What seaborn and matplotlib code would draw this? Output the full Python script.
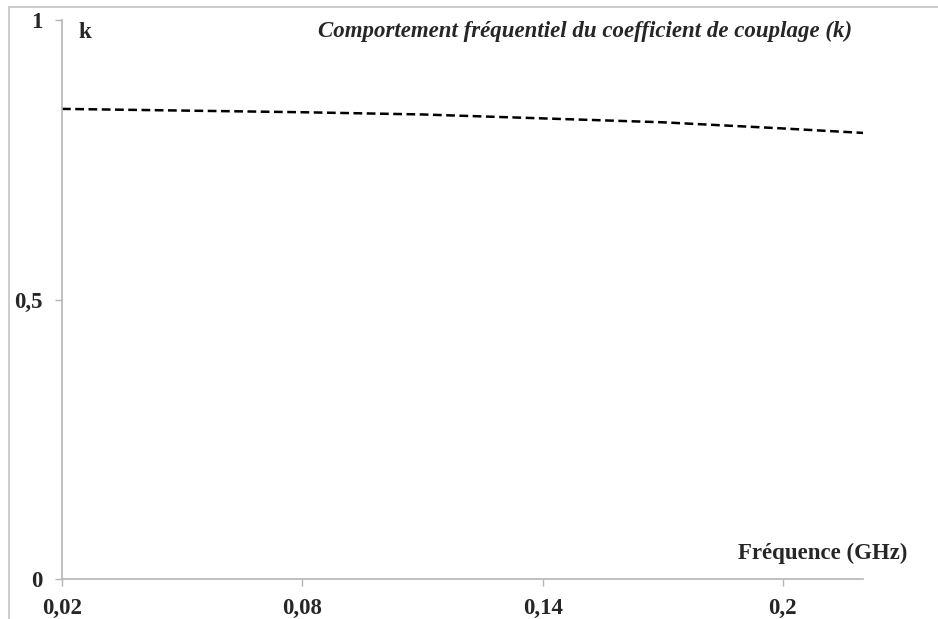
import matplotlib
matplotlib.use("Agg")
import matplotlib.pyplot as plt
import matplotlib.patches as mpatches
import seaborn as sns
import pandas as pd

# values
freq_ghz = [0.02, 0.05, 0.08, 0.11, 0.14, 0.17, 0.20, 0.22]
k_values = [0.841, 0.838, 0.835, 0.831, 0.824, 0.817, 0.806, 0.798]
x_ticks = [0.02, 0.08, 0.14, 0.2]
x_labels = ["0,02", "0,08", "0,14", "0,2"]
y_ticks = [0, 0.5, 1]
y_labels = ["0", "0,5", "1"]


def main():
    sns.set_theme(style="white")
    plt.rcParams["font.family"] = ["Liberation Serif", "DejaVu Serif"]

    df = pd.DataFrame({"freq": freq_ghz, "k": k_values})

    W, H = 938, 619
    fig = plt.figure(figsize=(W / 100, H / 100), dpi=100)
    ax = fig.add_axes([62 / W, (H - 579) / H, (863 - 62) / W, (579 - 20) / H])

    # outer grey frame (cut off at right/bottom like the reference)
    fig.patches.append(mpatches.Rectangle((9 / W, -0.05), 1.2, (H - 7) / H + 0.05,
                                          transform=fig.transFigure, fill=False,
                                          edgecolor="#c4c4c4", linewidth=1.2))

    sns.lineplot(data=df, x="freq", y="k", ax=ax, color="black",
                 linewidth=1.8, linestyle=(0, (3.5, 1.8)))

    ax.set_xlim(0.02, 0.22)
    ax.set_ylim(0, 1)
    ax.set_xticks(x_ticks)
    ax.set_xticklabels(x_labels)
    ax.set_yticks(y_ticks)
    ax.set_yticklabels(y_labels)
    ax.set_xlabel("")
    ax.set_ylabel("")

    for side in ["top", "right"]:
        ax.spines[side].set_visible(False)
    for side in ["left", "bottom"]:
        ax.spines[side].set_color("#b5b5b5")
        ax.spines[side].set_linewidth(1.2)

    ax.tick_params(axis="both", direction="out", length=5, width=1.0,
                   color="#b5b5b5", labelsize=16.5, pad=9)
    ax.tick_params(axis="x", bottom=True)
    ax.tick_params(axis="y", left=True)
    for lbl in ax.get_xticklabels() + ax.get_yticklabels():
        lbl.set_fontweight("bold")

    fig.text(78 / W, 1 - 32 / H, "k", fontsize=16.5, fontweight="bold",
             ha="left", va="center")
    fig.text(852 / W, 1 - 31 / H,
             "Comportement fréquentiel du coefficient de couplage (k)",
             fontsize=16.5, fontweight="bold", style="italic",
             ha="right", va="center")
    fig.text(907 / W, 1 - 553 / H, "Fréquence (GHz)", fontsize=16.5,
             fontweight="bold", ha="right", va="center")

    fig.savefig("out.png", dpi=100)
    plt.close(fig)


if __name__ == "__main__":
    main()
